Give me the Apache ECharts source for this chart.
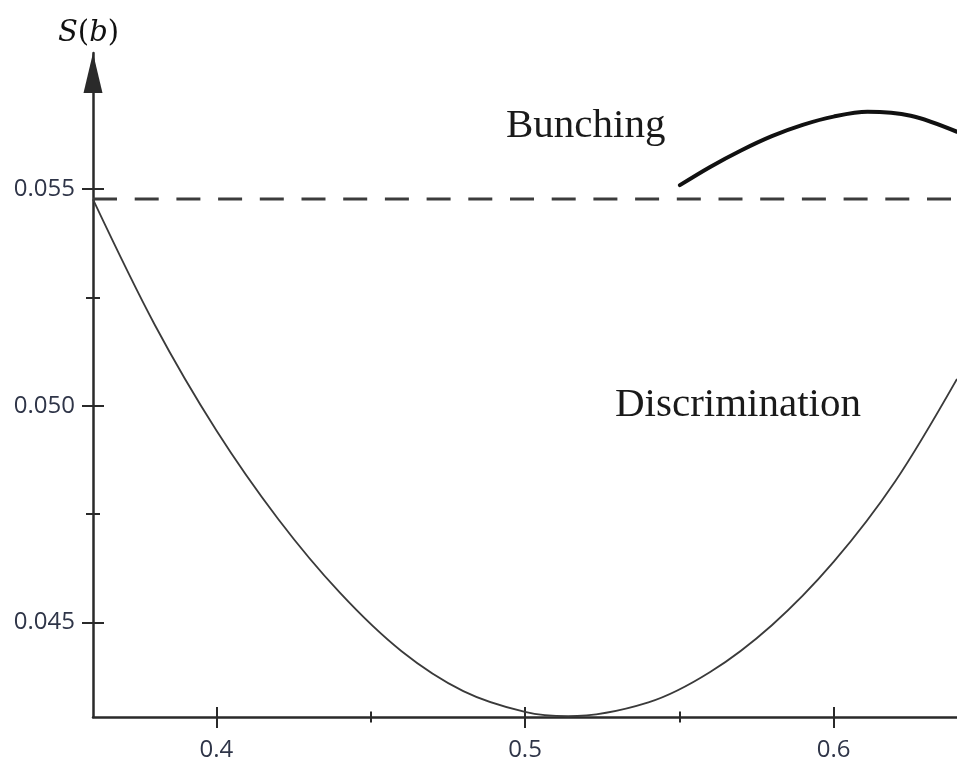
<!DOCTYPE html>
<html>
<head>
<meta charset="utf-8">
<script src="https://cdn.jsdelivr.net/npm/echarts@6/dist/echarts.min.js"></script>
<style>
  html, body { margin: 0; padding: 0; background: #fff; }
  #chart { width: 957px; height: 763px; }
</style>
</head>
<body>
<div id="chart"></div>
<script>
// discrimination curve S(b) (0.514 = bottom of the bowl)
const discB = [0.36, 0.38, 0.40, 0.42, 0.44, 0.46, 0.48, 0.50, 0.514, 0.54, 0.56, 0.58, 0.60, 0.62, 0.64]
const discS = [0.05476, 0.05187, 0.04943, 0.04739, 0.04569, 0.04434, 0.04342, 0.04294, 0.04284, 0.04316, 0.04386, 0.04494, 0.0464, 0.04826, 0.05062]
// bunching curve (0.611 = its peak)
const bunchB = [0.5502, 0.56, 0.57, 0.58, 0.59, 0.60, 0.611, 0.625, 0.64]
const bunchS = [0.05509, 0.05551, 0.05589, 0.05622, 0.05648, 0.05667, 0.05678, 0.05669, 0.05632]
// dashed level
const levelS = 0.05477

const xRange = [0.36, 0.64]
const yRange = [0.042823, 0.058137]
const xMajor = [0.4, 0.5, 0.6]
const xMinor = [0.45, 0.55]
const yMajor = [0.045, 0.05, 0.055]
const yMinor = [0.0475, 0.0525]

const AXIS = '#2a2a2a'
const LABEL = '#2f3548'
const labelFont = { fontFamily: 'Open Sans', fontSize: 24, color: LABEL }

const zip = (xs, ys) => xs.map((x, i) => [x, ys[i]])

const chart = echarts.init(document.getElementById('chart'))

// extra axes only carry ticks that cross the main axis line
const tickAxis = (base, offset, len, vals) => ({
  ...base,
  offset: offset,
  axisLine: { show: false, onZero: false },
  axisLabel: { show: false },
  splitLine: { show: false },
  axisTick: { show: true, length: len, customValues: vals, lineStyle: { color: AXIS, width: 2 } }
})

const xBase = { type: 'value', min: xRange[0], max: xRange[1], position: 'bottom' }
const yBase = { type: 'value', min: yRange[0], max: yRange[1], position: 'left' }

chart.setOption({
  animation: false,
  backgroundColor: '#fff',
  grid: { left: 93, right: 0, top: 53, bottom: 46 },
  xAxis: [
    {
      ...xBase,
      axisLine: { show: true, onZero: false, lineStyle: { color: AXIS, width: 2.5 } },
      axisTick: { show: false },
      splitLine: { show: false },
      axisLabel: { ...labelFont, margin: 21, customValues: xMajor, formatter: v => v.toFixed(1) }
    },
    tickAxis(xBase, -10, 21, xMajor),
    tickAxis(xBase, -5.5, 11, xMinor)
  ],
  yAxis: [
    {
      ...yBase,
      axisLine: {
        show: true, onZero: false,
        symbol: ['none', 'triangle'], symbolSize: [19, 40], symbolOffset: [0, -20],
        lineStyle: { color: AXIS, width: 2.5 }
      },
      axisTick: { show: false },
      splitLine: { show: false },
      axisLabel: { ...labelFont, margin: 18, padding: [6, 0, 0, 0], customValues: yMajor, formatter: v => v.toFixed(3) }
    },
    tickAxis(yBase, -11, 22, yMajor),
    tickAxis(yBase, -7, 14, yMinor)
  ],
  series: [
    {
      type: 'line',
      data: [[xRange[0], levelS], [xRange[1], levelS]],
      showSymbol: false,
      lineStyle: { color: '#3c3c3c', width: 3, type: [24, 17.7] }
    },
    {
      type: 'line',
      data: zip(discB, discS),
      showSymbol: false,
      smooth: 0.33,
      lineStyle: { color: '#3a3a3a', width: 1.8 }
    },
    {
      type: 'line',
      data: zip(bunchB, bunchS),
      showSymbol: false,
      smooth: 0.33,
      lineStyle: { color: '#111', width: 4, cap: 'round' }
    }
  ],
  graphic: [
    {
      type: 'text', left: 506, top: 106,
      style: { text: 'Bunching', font: '41px "Liberation Serif"', fill: '#1a1a1a' }
    },
    {
      type: 'text', left: 615, top: 385,
      style: { text: 'Discrimination', font: '41px "Liberation Serif"', fill: '#1a1a1a' }
    },
    {
      type: 'text', left: 58, top: 19,
      style: {
        text: '{i|S}{p|(}{i|b}{p|)}',
        rich: {
          i: { fontFamily: 'DejaVu Serif', fontStyle: 'italic', fontSize: 29, fill: '#111' },
          p: { fontFamily: 'DejaVu Serif', fontSize: 29, fill: '#111' }
        }
      }
    }
  ]
})
</script>
</body>
</html>
